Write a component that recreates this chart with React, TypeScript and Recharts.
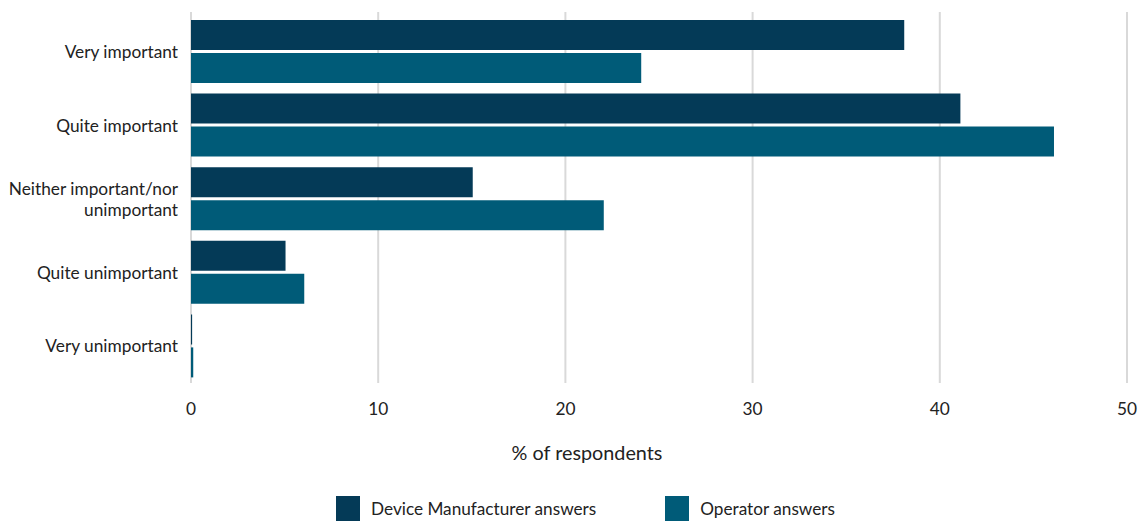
import React from 'react';
import { BarChart, Bar, XAxis, YAxis, CartesianGrid, Legend } from 'recharts';

const categories = [
  'Very important',
  'Quite important',
  'Neither important/nor\nunimportant',
  'Quite unimportant',
  'Very unimportant',
];
const deviceManufacturer = [38.1, 41.1, 15.05, 5.05, 0.06];
const operator = [24.05, 46.1, 22.05, 6.05, 0.12];
const xTicks = [0, 10, 20, 30, 40, 50];

const seriesNames = ['Device Manufacturer answers', 'Operator answers'];
const colors = ['#043A57', '#005B78'];

const data = categories.map((c, i) => ({
  category: c,
  device: deviceManufacturer[i],
  operator: operator[i],
}));

const FONT = 'Lato, "Open Sans", sans-serif';
const TEXT = '#222222';

const YTick = (props: any) => {
  const { x, y, payload } = props;
  const lines = String(payload.value).split('\n');
  const lh = 21;
  const startY = y - ((lines.length - 1) * lh) / 2;
  return (
    <text x={x} y={startY} textAnchor="end" fill={TEXT} fontSize={17.3} fontFamily={FONT}>
      {lines.map((l, i) => (
        <tspan key={i} x={x} dy={i === 0 ? '0.355em' : lh}>
          {l}
        </tspan>
      ))}
    </text>
  );
};

const LegendContent = () => (
  <div
    style={{
      display: 'flex',
      justifyContent: 'center',
      alignItems: 'center',
      paddingLeft: 31,
      fontFamily: FONT,
      fontSize: 17.2,
      color: TEXT,
      height: 26,
    }}
  >
    {seriesNames.map((n, i) => (
      <div key={n} style={{ display: 'flex', alignItems: 'center', marginLeft: i === 0 ? 0 : 69 }}>
        <div style={{ width: 24, height: 25, background: colors[i], marginRight: 11 }} />
        <span>{n}</span>
      </div>
    ))}
  </div>
);

export default function App() {
  return (
    <div style={{ position: 'absolute', left: 0, top: 0, background: '#fff' }}>
      <BarChart
        width={1140}
        height={523}
        data={data}
        layout="vertical"
        margin={{ top: 12, right: 13, bottom: 2, left: 0 }}
        barSize={30}
        barGap={3}
      >
        <CartesianGrid horizontal={false} stroke="#D9D9D9" strokeWidth={2} />
        <XAxis
          type="number"
          domain={[0, 50]}
          ticks={xTicks}
          axisLine={false}
          tickLine={false}
          tickSize={0}
          tickMargin={20}
          height={112}
          tick={{ fill: TEXT, fontSize: 17.3, fontFamily: FONT }}
          label={{
            value: '% of respondents',
            position: 'insideBottom',
            offset: 35,
            dx: -72,
            fill: TEXT,
            fontSize: 19.8,
            fontFamily: FONT,
          }}
        />
        <YAxis
          type="category"
          dataKey="category"
          width={191}
          axisLine={false}
          tickLine={false}
          tickSize={0}
          tickMargin={13}
          padding={{ top: 3, bottom: 0 }}
          tick={<YTick />}
          interval={0}
        />
        <Legend
          verticalAlign="bottom"
          content={<LegendContent />}
          wrapperStyle={{ left: 0, width: 1140 }}
        />
        <Bar dataKey="device" name={seriesNames[0]} fill={colors[0]} isAnimationActive={false} />
        <Bar dataKey="operator" name={seriesNames[1]} fill={colors[1]} isAnimationActive={false} />
      </BarChart>
    </div>
  );
}
